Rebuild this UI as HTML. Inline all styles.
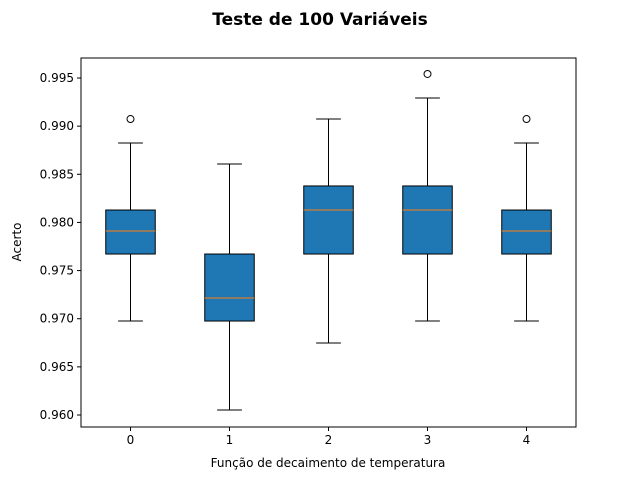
<!DOCTYPE html>
<html><head><meta charset="utf-8"><style>
body{margin:0;background:#fff;font-family:"Liberation Sans","DejaVu Sans",sans-serif}
svg text{font-family:"DejaVu Sans","Liberation Sans",sans-serif}
</style></head><body>
<svg id="chart" width="640" height="480" xmlns="http://www.w3.org/2000/svg">
<rect width="640" height="480" fill="#fff"/>
<text x="320" y="25" text-anchor="middle" font-size="17" font-weight="bold">Teste de 100 Variáveis</text>
<g id="plot"></g>
<text x="328" y="467" text-anchor="middle" font-size="12">Função de decaimento de temperatura</text>
<text transform="translate(21,242) rotate(-90)" text-anchor="middle" font-size="12">Acerto</text>
</svg>
<script>
const categories=["0","1","2","3","4"];
const whiskerLow=[0.96976,0.96052,0.96748,0.96976,0.96976];
const q1=[0.97672,0.96976,0.97672,0.97672,0.97672];
const medians=[0.97911,0.97215,0.98129,0.98129,0.97911];
const q3=[0.98129,0.97672,0.98379,0.98379,0.98129];
const whiskerHigh=[0.98825,0.98607,0.99074,0.99293,0.98825];
const outliers=[[0.99074],[],[],[0.99542],[0.99074]];
const yTicks=[0.960,0.965,0.970,0.975,0.980,0.985,0.990,0.995];

const L=81,R=576,T=58,B=427;
const NS="http://www.w3.org/2000/svg";
const g=document.getElementById('plot');
function x(i){return L+(i+0.5)*(R-L)/categories.length;}
function y(v){return 415-(v-0.960)/0.005*48.14;}
function mk(tag,attrs,parent){const e=document.createElementNS(NS,tag);for(const k in attrs)e.setAttribute(k,attrs[k]);(parent||g).appendChild(e);return e;}
const bw=(R-L)/categories.length*0.5, cw=bw/2;
categories.forEach((c,i)=>{
  const cx=x(i);
  const grp=mk('g',{});
  
  
  const l1=mk('line',{x1:cx,x2:cx,y1:y(whiskerLow[i]),y2:y(q1[i]),stroke:'#000','stroke-width':1},grp);
  
  
  const l2=mk('line',{x1:cx,x2:cx,y1:y(q3[i]),y2:y(whiskerHigh[i]),stroke:'#000','stroke-width':1},grp);
  
  
  const c1=mk('line',{x1:cx-cw/2,x2:cx+cw/2,y1:y(whiskerLow[i]),y2:y(whiskerLow[i]),stroke:'#000','stroke-width':1},grp);
  
  
  const c2=mk('line',{x1:cx-cw/2,x2:cx+cw/2,y1:y(whiskerHigh[i]),y2:y(whiskerHigh[i]),stroke:'#000','stroke-width':1},grp);
  
  
  const r=mk('rect',{x:cx-bw/2,y:y(q3[i]),width:bw,height:y(q1[i])-y(q3[i]),fill:'#1f77b4',stroke:'#000','stroke-width':1},grp);
  
  
  const m=mk('line',{x1:cx-bw/2,x2:cx+bw/2,y1:y(medians[i]),y2:y(medians[i]),stroke:'#ff7f0e','stroke-width':1},grp);
  
  
  outliers[i].forEach(o=>{
    const p=mk('circle',{cx:cx,cy:y(o),r:3.5,fill:'none',stroke:'#000','stroke-width':1},grp);
    
    
  });
  const t=mk('line',{x1:cx,x2:cx,y1:B,y2:B+4,stroke:'#000'});
  
  
  const tl=mk('text',{x:cx,y:B+17,'text-anchor':'middle','font-size':12});
  tl.textContent=c;
  
  
});
yTicks.forEach(v=>{
  const t=mk('line',{x1:L-4,x2:L,y1:y(v),y2:y(v),stroke:'#000'});
  
  
  const tl=mk('text',{x:L-7,y:y(v)+4,'text-anchor':'end','font-size':12});
  tl.textContent=v.toFixed(3);
  
  
});
const fr=mk('rect',{x:L,y:T,width:R-L,height:B-T,fill:'none',stroke:'#000','stroke-width':1});


</script>
</body></html>
